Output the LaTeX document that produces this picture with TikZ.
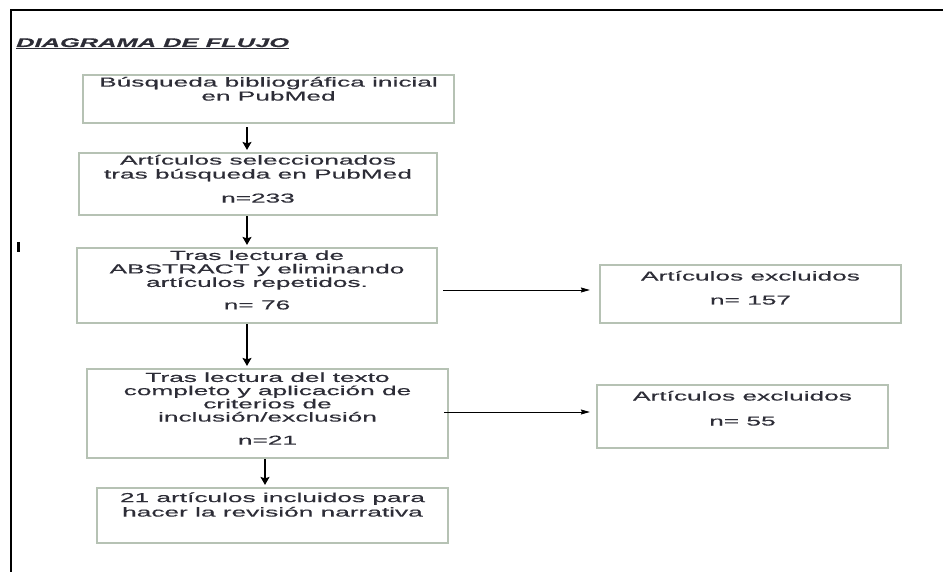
\documentclass[tikz,border=0pt]{standalone}
\usepackage{fontspec}
\setmainfont{Liberation Sans}[FakeStretch=2.02,FakeBold=0.4]
\usepackage{tikz}
\usetikzlibrary{arrows,arrows.meta,shapes}

\definecolor{cajaverde}{RGB}{182,194,180}
\definecolor{textogris}{RGB}{45,45,55}

% texto de caja: alto, ancho, lineas
\newcommand{\cajatexto}[3]{\parbox[c][#1][t]{#2}{\centering #3}}

\tikzset{
  caja/.style={draw=cajaverde, line width=2.2pt, rectangle, inner sep=0pt,
    text=textogris, font=\fontsize{13}{14}\selectfont},
  flecha/.style={-{Stealth[length=8pt,width=9pt,inset=1.5pt]}, line width=1.3pt},
  flechafina/.style={-{Stealth[length=9pt,width=5pt,inset=1pt]}, line width=0.8pt}
}

\begin{document}
\begin{tikzpicture}[x=1pt,y=-1pt]
  \useasboundingbox (0,0) rectangle (943,572);
  \draw[line width=2pt] (11,572) -- (11,10) -- (943,10);
  \draw[line width=2.5pt] (18.5,242) -- (18.5,252);
  \node[anchor=base west, inner sep=0pt, text=textogris,
    font=\fontsize{12.6}{14}\selectfont\bfseries\itshape] (titulo) at (16,47) {\underline{DIAGRAMA DE FLUJO}};
  \node[caja, minimum width=371pt, minimum height=48pt] (b1) at (268.5,99)
    {\cajatexto{44pt}{365pt}{Búsqueda bibliográfica inicial\\en PubMed}};
  \node[caja, minimum width=358pt, minimum height=62pt] (b2) at (258,184)
    {\cajatexto{58pt}{350pt}{Artículos seleccionados\\tras búsqueda en PubMed\\[10pt]n=233}};
  \node[caja, minimum width=360pt, minimum height=75pt] (b3) at (257,285.5)
    {\cajatexto{70pt}{350pt}{\baselineskip=13.5pt Tras lectura de\\ABSTRACT y eliminando\\artículos repetidos.\\[9pt]n= 76}};
  \node[caja, minimum width=361pt, minimum height=89pt] (b4) at (267.5,413.5)
    {\cajatexto{82pt}{350pt}{\baselineskip=13.2pt Tras lectura del texto\\completo y aplicación de\\criterios de\\inclusión/exclusión\\[10pt]n=21}};
  \node[caja, minimum width=351pt, minimum height=55pt] (b5) at (272.5,515.5)
    {\cajatexto{46pt}{345pt}{\baselineskip=14.5pt 21 artículos incluidos para\\hacer la revisión narrativa}};
  \node[caja, minimum width=301pt, minimum height=58pt] (e1) at (750.5,294)
    {\cajatexto{55pt}{295pt}{\rule{0pt}{14pt}Artículos excluidos\\[10pt]n= 157}};
  \node[caja, minimum width=291pt, minimum height=63pt] (e2) at (742.5,416.5)
    {\cajatexto{60pt}{285pt}{\rule{0pt}{14pt}Artículos excluidos\\[11pt]n= 55}};
  \coordinate (eje) at (247,0);
  \coordinate (eje2) at (265,0);
  \draw[flecha] ([yshift=-3pt]b1.south -| eje) -- ([yshift=2pt]b2.north -| eje);
  \draw[flecha] (b2.south -| eje) -- ([yshift=2pt]b3.north -| eje);
  \draw[flecha] (b3.south -| eje) -- ([yshift=2pt]b4.north -| eje);
  \draw[flecha] (b4.south -| eje2) -- ([yshift=2pt]b5.north -| eje2);
  \draw[flechafina] ([xshift=5pt,yshift=-4.5pt]b3.east) -- ([xshift=-9pt,yshift=4pt]e1.west);
  \draw[flechafina] ([xshift=-5pt,yshift=1.5pt]b4.east) -- ([xshift=-6pt,yshift=4.5pt]e2.west);
\end{tikzpicture}
\end{document}
